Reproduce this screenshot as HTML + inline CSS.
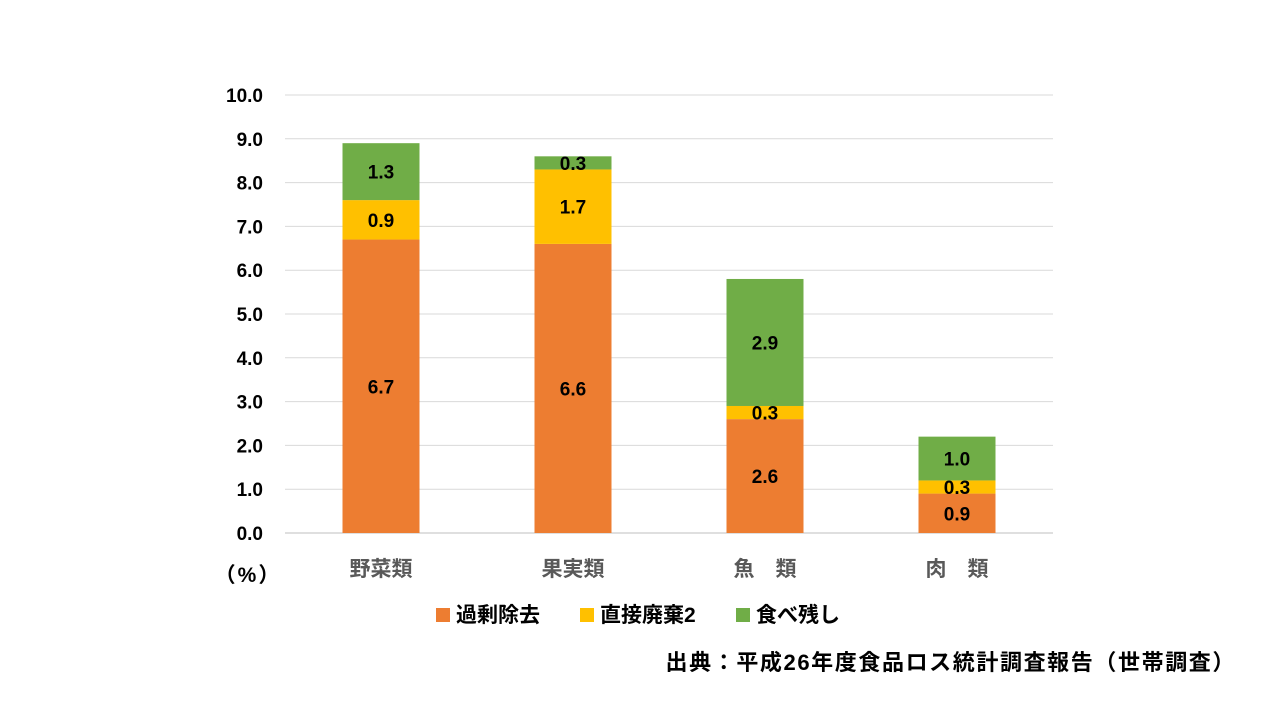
<!DOCTYPE html>
<html><head><meta charset="utf-8"><style>
html,body{margin:0;padding:0;background:#fff;}
svg text{font-family:"Liberation Sans","Noto Sans CJK JP",sans-serif;}
</style></head><body>
<svg width="1280" height="720" xmlns="http://www.w3.org/2000/svg">
<g id="grid"></g>
<g id="yticks"></g>
<g id="bars"></g>
<g id="xlabels"></g>
<text x="248" y="582" text-anchor="middle" font-size="21" font-weight="bold" letter-spacing="2" fill="#000">（%）</text>
<g font-weight="bold">
  <g><rect x="436" y="608" width="14" height="14" fill="#ED7D31"/><text x="456" y="622" font-size="21" fill="#000">過剰除去</text></g>
  <g><rect x="580" y="608" width="14" height="14" fill="#FFC000"/><text x="600" y="622" font-size="21" fill="#000">直接廃棄2</text></g>
  <g><rect x="736" y="608" width="14" height="14" fill="#70AD47"/><text x="756" y="622" font-size="21" fill="#000">食べ残し</text></g>
</g>
<text x="1236" y="670" text-anchor="end" font-size="22" font-weight="bold" letter-spacing="1.6" fill="#000">出典：平成26年度食品ロス統計調査報告（世帯調査）</text>
</svg>
<script>
const categories=["野菜類","果実類","魚　類","肉　類"];
const kajo=[6.7,6.6,2.6,0.9];
const chokusetsu=[0.9,1.7,0.3,0.3];
const tabenokoshi=[1.3,0.3,2.9,1.0];
const yTicks=[0,1,2,3,4,5,6,7,8,9,10];
const NS="http://www.w3.org/2000/svg";
const x0=285,x1=1053,yBase=533,yTop=95,yMax=10;
const y=v=>yBase-(yBase-yTop)*v/yMax;
const band=(x1-x0)/categories.length,bw=77;
const cx=i=>x0+band*(i+0.5);
function mk(tag,attrs,parent){const e=document.createElementNS(NS,tag);for(const k in attrs)e.setAttribute(k,attrs[k]);parent.appendChild(e);return e;}
const grid=document.getElementById('grid'),yt=document.getElementById('yticks'),bars=document.getElementById('bars'),xl=document.getElementById('xlabels');
yTicks.forEach(t=>{
  const l=mk('line',{x1:x0,x2:x1,y1:y(t),y2:y(t),stroke:t===0?'#BFBFBF':'#D9D9D9','stroke-width':1},grid);
  
  
  const tx=mk('text',{x:263,y:y(t)+7,'text-anchor':'end','font-size':19,'font-weight':'bold',fill:'#000'},yt);
  tx.textContent=t.toFixed(1);
  
  
});
const series=[[kajo,'#ED7D31','kajo'],[chokusetsu,'#FFC000','chokusetsu'],[tabenokoshi,'#70AD47','tabenokoshi']];
categories.forEach((c,i)=>{
  let acc=0;
  series.forEach(([arr,col,nm])=>{
    const v=arr[i];const top=y(acc+v),bot=y(acc);
    const r=mk('rect',{x:cx(i)-bw/2,y:top,width:bw,height:bot-top,fill:col},bars);
    
    
    const t=mk('text',{x:cx(i),y:(top+bot)/2+7,'text-anchor':'middle','font-size':19,'font-weight':'bold',fill:'#000'},bars);
    t.textContent=v.toFixed(1);
    
    
    acc+=v;
  });
  const lt=mk('text',{x:cx(i),y:576,'text-anchor':'middle','font-size':21,'font-weight':'bold',fill:'#595959'},xl);
  lt.textContent=c;
  
  
});
</script>
</body></html>
